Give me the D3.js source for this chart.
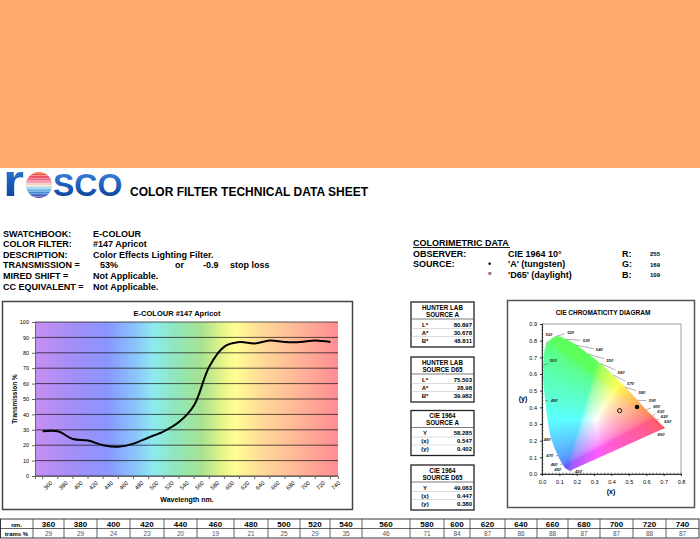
<!DOCTYPE html>
<html lang="en">
<head>
<meta charset="UTF-8">
<title>Rosco E-Colour #147 Apricot</title>
<script src="https://cdn.jsdelivr.net/npm/d3@7/dist/d3.min.js"></script>
<style>
  html, body { margin: 0; background: #fff; }
  svg { display: block; font-family: 'Liberation Sans', Arial, sans-serif; font-weight: bold; }
</style>
</head>
<body>
<script>
// page size
const W = 700
const H = 539

// filter data
const wavelengths = [360, 380, 400, 420, 440, 460, 480, 500, 520, 540, 560, 580, 600, 620, 640, 660, 680, 700, 720, 740]
const transmission = [29, 29, 24, 23, 20, 19, 21, 25, 29, 35, 46, 71, 84, 87, 86, 88, 87, 87, 88, 87]
const swatchRgb = [255, 169, 109]
const transmissionPct = 53
const stopLoss = -0.9

const infoLabels = ['SWATCHBOOK:', 'COLOR FILTER:', 'DESCRIPTION:', 'TRANSMISSION =', 'MIRED SHIFT =', 'CC EQUIVALENT =']
const infoValues = ['E-COLOUR', '#147 Apricot', 'Color Effects Lighting Filter.', transmissionPct + '%', 'Not Applicable.', 'Not Applicable.']

const hunterA = [80.897, 30.678, 48.811]
const hunterD65 = [75.503, 28.98, 39.982]
const cieA = [58.285, 0.547, 0.402]
const cieD65 = [49.083, 0.447, 0.380]

// spectral locus: [nm, x, y]
const locus = [
  [420, 0.160, 0.020], [450, 0.135, 0.035], [460, 0.118, 0.058], [470, 0.092, 0.110],
  [480, 0.055, 0.205], [490, 0.018, 0.440], [500, 0.008, 0.650], [510, 0.025, 0.775],
  [520, 0.080, 0.826], [530, 0.140, 0.808], [540, 0.200, 0.772], [550, 0.268, 0.720],
  [560, 0.338, 0.662], [570, 0.410, 0.594], [580, 0.480, 0.520], [590, 0.550, 0.442],
  [600, 0.600, 0.386], [610, 0.636, 0.350], [620, 0.660, 0.325], [630, 0.680, 0.303],
  [650, 0.700, 0.284], [700, 0.710, 0.278]
]
// wavelength labels on the diagram: [nm, x, y]
const locusLabels = [
  [510, 0.040, 0.835], [520, 0.165, 0.850], [530, 0.255, 0.800], [540, 0.330, 0.745],
  [550, 0.390, 0.680], [560, 0.455, 0.610], [570, 0.510, 0.540], [580, 0.575, 0.490],
  [590, 0.635, 0.440], [600, 0.660, 0.407], [610, 0.684, 0.376], [620, 0.704, 0.345],
  [630, 0.724, 0.314], [650, 0.685, 0.235], [500, 0.065, 0.680], [490, 0.070, 0.440],
  [480, 0.030, 0.205], [470, 0.045, 0.110], [460, 0.070, 0.057], [450, 0.090, 0.025],
  [420, 0.210, 0.015]
]

const svg = d3.select('body').append('svg')
  .attr('width', W)
  .attr('height', H)
const defs = svg.append('defs')

// colour swatch
svg.append('rect')
  .attr('width', W).attr('height', 168)
  .attr('fill', d3.rgb(...swatchRgb))

// ---- logo + heading
const blue = defs.append('linearGradient').attr('id', 'logoBlue').attr('x1', 0).attr('y1', 0).attr('x2', 0).attr('y2', 1)
blue.append('stop').attr('offset', 0).attr('stop-color', '#4a8fe0')
blue.append('stop').attr('offset', 0.5).attr('stop-color', '#1c5fbf')
blue.append('stop').attr('offset', 1).attr('stop-color', '#0b3a8a')

const ball = defs.append('linearGradient').attr('id', 'logoBall').attr('x1', 0).attr('y1', 0).attr('x2', 0).attr('y2', 1)
const ballStops = [[0, '#f0682c'], [0.22, '#ec4a6a'], [0.42, '#f3a9b8'], [0.52, '#f7e8c8'], [0.62, '#8fd3f0'], [0.8, '#3d86d6'], [1, '#4b3a9e']]
ballStops.forEach(s => ball.append('stop').attr('offset', s[0]).attr('stop-color', s[1]))
defs.append('clipPath').attr('id', 'ballClip')
  .append('circle').attr('cx', 39).attr('cy', 185).attr('r', 13)

const logo = svg.append('g')
logo.append('text').attr('x', 3).attr('y', 196)
  .attr('font-size', 44).attr('textLength', 21).attr('lengthAdjust', 'spacingAndGlyphs')
  .attr('fill', 'url(#logoBlue)').text('r')
logo.append('circle').attr('cx', 39).attr('cy', 185).attr('r', 13).attr('fill', 'url(#logoBall)')
logo.append('g').attr('clip-path', 'url(#ballClip)')
  .selectAll('line').data(d3.range(173, 198, 2.6)).join('line')
  .attr('x1', 24).attr('x2', 54).attr('y1', d => d).attr('y2', d => d)
  .attr('stroke', '#fff').attr('stroke-width', 0.6).attr('opacity', 0.7)
logo.append('text').attr('x', 53).attr('y', 196)
  .attr('font-size', 32).attr('fill', 'url(#logoBlue)').text('SCO')

svg.append('text').attr('x', 130).attr('y', 196).attr('font-size', 12)
  .text('COLOR FILTER TECHNICAL DATA SHEET')

// ---- filter info block
const info = svg.append('g').attr('font-size', 9)
info.selectAll('.lab').data(infoLabels).join('text')
  .attr('class', 'lab').attr('x', 3).attr('y', (d, i) => 236.5 + i * 10.6).text(d => d)
info.selectAll('.val').data(infoValues).join('text')
  .attr('class', 'val').attr('x', (d, i) => i === 3 ? 100 : 93).attr('y', (d, i) => 236.5 + i * 10.6).text(d => d)
info.append('text').attr('x', 175).attr('y', 236.5 + 3 * 10.6).text('or')
info.append('text').attr('x', 203).attr('y', 236.5 + 3 * 10.6).text(stopLoss)
info.append('text').attr('x', 230).attr('y', 236.5 + 3 * 10.6).text('stop loss')

// ---- colorimetric block
const cm = svg.append('g').attr('font-size', 9)
cm.append('text').attr('x', 413).attr('y', 245.5).text('COLORIMETRIC DATA')
cm.append('line').attr('x1', 413).attr('x2', 510).attr('y1', 247.5).attr('y2', 247.5).attr('stroke', '#000').attr('stroke-width', 0.9)
cm.append('text').attr('x', 413).attr('y', 256.5).text('OBSERVER:')
cm.append('text').attr('x', 413).attr('y', 267).text('SOURCE:')
cm.append('text').attr('x', 508).attr('y', 256.5).text('CIE 1964 10°')
cm.append('text').attr('x', 488).attr('y', 267).text('•')
cm.append('text').attr('x', 508).attr('y', 267).text("'A' (tungsten)")
cm.append('text').attr('x', 488).attr('y', 277.5).text('°')
cm.append('text').attr('x', 508).attr('y', 277.5).text("'D65' (daylight)")
;['R:', 'G:', 'B:'].forEach((c, i) => {
  cm.append('text').attr('x', 622).attr('y', 256.5 + i * 10.5).text(c)
  cm.append('text').attr('x', 650).attr('y', 256 + i * 10.5).attr('font-size', 6).text(swatchRgb[i])
})

// ---- transmission chart
svg.append('rect').attr('x', 2.5).attr('y', 301.5).attr('width', 350).attr('height', 208)
  .attr('fill', '#fff').attr('stroke', '#444').attr('stroke-width', 1.5)

const plot = { x0: 35, x1: 338, y0: 322, y1: 476 }
const x = d3.scaleBand().domain(wavelengths).range([plot.x0, plot.x1])
const y = d3.scaleLinear().domain([0, 100]).range([plot.y1, plot.y0])

const spec = defs.append('linearGradient').attr('id', 'spectrum')
const specStops = [[0, '#c78ef2'], [0.14, '#a08ef8'], [0.24, '#8a96ff'], [0.33, '#8ac4fa'], [0.39, '#8eeaf0'],
  [0.47, '#90e6b8'], [0.55, '#a8e290'], [0.62, '#e6f48a'], [0.66, '#ffff92'], [0.74, '#ffdc98'],
  [0.86, '#ffb898'], [1, '#ff8c94']]
specStops.forEach(s => spec.append('stop').attr('offset', s[0]).attr('stop-color', s[1]))

svg.append('rect').attr('x', plot.x0).attr('y', plot.y0)
  .attr('width', plot.x1 - plot.x0).attr('height', plot.y1 - plot.y0)
  .attr('fill', 'url(#spectrum)')

svg.append('g').selectAll('line').data(y.ticks(10)).join('line')
  .attr('x1', plot.x0).attr('x2', plot.x1)
  .attr('y1', d => y(d)).attr('y2', d => y(d))
  .attr('stroke', '#111').attr('stroke-width', 0.7)

const gy = svg.append('g').attr('transform', `translate(${plot.x0},0)`)
  .call(d3.axisLeft(y).ticks(10).tickSize(3))
gy.selectAll('text').attr('font-size', 5.5).attr('font-weight', 'normal').attr('font-family', 'Liberation Sans, Arial')
gy.selectAll('path, line').attr('stroke', '#666')

const gx = svg.append('g').attr('transform', `translate(0,${plot.y1})`)
  .call(d3.axisBottom(x).tickSize(3))
gx.selectAll('text').attr('font-size', 5.8).attr('font-weight', 'normal').attr('font-family', 'Liberation Sans, Arial')
  .attr('text-anchor', 'end').attr('dx', '2').attr('dy', '6.5')
  .attr('transform', 'rotate(-45)')
gx.selectAll('path, line').attr('stroke', '#666')

const line = d3.line()
  .x((d, i) => x(wavelengths[i]) + x.bandwidth() / 2)
  .y(d => y(d))
  .curve(d3.curveCatmullRom.alpha(0.5))
svg.append('path').attr('d', line(transmission))
  .attr('fill', 'none').attr('stroke', '#000').attr('stroke-width', 2)

svg.append('text').attr('x', 177).attr('y', 316).attr('text-anchor', 'middle').attr('font-size', 7.5)
  .text('E-COLOUR #147 Apricot')
svg.append('text').attr('transform', 'translate(17,399) rotate(-90)').attr('text-anchor', 'middle')
  .attr('font-size', 6.5).text('Transmission %')
svg.append('text').attr('x', 187).attr('y', 502).attr('text-anchor', 'middle').attr('font-size', 7)
  .text('Wavelength nm.')

// ---- hunter / cie boxes
function dataBox(top, head1, head2, labels, values) {
  const g = svg.append('g').attr('transform', `translate(411,${top})`)
  g.append('rect').attr('width', 63).attr('height', 45).attr('fill', '#fff').attr('stroke', '#222').attr('stroke-width', 1.3)
  g.append('line').attr('x1', 0).attr('x2', 63).attr('y1', 17).attr('y2', 17).attr('stroke', '#444').attr('stroke-width', 0.7)
  ;[26.5, 34.5].forEach(v => g.append('line').attr('x1', 0).attr('x2', 63).attr('y1', v).attr('y2', v)
    .attr('stroke', '#bbb').attr('stroke-width', 0.5))
  g.append('text').attr('x', 31.5).attr('y', 7.8).attr('text-anchor', 'middle').attr('font-size', 6.3).text(head1)
  g.append('text').attr('x', 31.5).attr('y', 14.8).attr('text-anchor', 'middle').attr('font-size', 6.3).text(head2)
  labels.forEach((l, i) => {
    g.append('text').attr('x', 14).attr('y', 24.5 + i * 8).attr('text-anchor', 'middle').attr('font-size', 6).text(l)
    g.append('text').attr('x', 61).attr('y', 24.5 + i * 8).attr('text-anchor', 'end').attr('font-size', 6).text(values[i])
  })
}
const f3 = d3.format('.3f')
dataBox(302, 'HUNTER LAB', 'SOURCE A', ['L*', 'A*', 'B*'], hunterA.map(String))
dataBox(357, 'HUNTER LAB', 'SOURCE D65', ['L*', 'A*', 'B*'], hunterD65.map(String))
dataBox(410.5, 'CIE 1964', 'SOURCE A', ['Y', '(x)', '(y)'], cieA.map(f3))
dataBox(465, 'CIE 1964', 'SOURCE D65', ['Y', '(x)', '(y)'], cieD65.map(f3))

// ---- CIE chromaticity diagram
svg.append('rect').attr('x', 507.5).attr('y', 300.5).attr('width', 187).attr('height', 207)
  .attr('fill', '#fff').attr('stroke', '#555').attr('stroke-width', 1.5)
svg.append('text').attr('x', 603).attr('y', 314.5).attr('text-anchor', 'middle').attr('font-size', 6.5)
  .text('CIE CHROMATICITY DIAGRAM')

const cx = d3.scaleLinear().domain([0, 0.8]).range([542, 681])
const cy = d3.scaleLinear().domain([0, 0.9]).range([474, 324])

// chromaticity colour field
function xyToRgb(xx, yy) {
  yy = Math.max(yy, 0.005)
  const X = xx / yy, Y = 1, Z = (1 - xx - yy) / yy
  let rgb = [
    3.2406 * X - 1.5372 * Y - 0.4986 * Z,
    -0.9689 * X + 1.8758 * Y + 0.0415 * Z,
    0.0557 * X - 0.2040 * Y + 1.0570 * Z
  ].map(v => Math.max(v, 0))
  const m = Math.max(...rgb) || 1
  return rgb.map(v => {
    v = v / m
    v = v <= 0.0031308 ? 12.92 * v : 1.055 * Math.pow(v, 1 / 2.4) - 0.055
    return Math.round(255 * (0.64 * v + 0.36))
  })
}
const k = 3
const pw = cx.range()[1] - cx.range()[0]
const ph = cy.range()[0] - cy.range()[1]
const cvs = document.createElement('canvas')
cvs.width = pw * k
cvs.height = ph * k
const ctx = cvs.getContext('2d')
const img = ctx.createImageData(cvs.width, cvs.height)
for (let j = 0; j < cvs.height; j++) {
  const yy = cy.invert(cy.range()[1] + (j + 0.5) / k)
  for (let i = 0; i < cvs.width; i++) {
    const xx = cx.invert(cx.range()[0] + (i + 0.5) / k)
    const c = xyToRgb(xx, yy)
    const o = (j * cvs.width + i) * 4
    img.data[o] = c[0]
    img.data[o + 1] = c[1]
    img.data[o + 2] = c[2]
    img.data[o + 3] = 255
  }
}
ctx.putImageData(img, 0, 0)

const locusLine = d3.line().x(d => cx(d[1])).y(d => cy(d[2])).curve(d3.curveCatmullRom.alpha(0.5))
defs.append('clipPath').attr('id', 'locusClip').append('path').attr('d', locusLine(locus) + 'Z')

svg.append('image').attr('href', cvs.toDataURL())
  .attr('x', cx.range()[0]).attr('y', cy.range()[1])
  .attr('width', pw).attr('height', ph)
  .attr('preserveAspectRatio', 'none')
  .attr('clip-path', 'url(#locusClip)')

// plot frame and axes
svg.append('rect').attr('x', cx(0)).attr('y', cy(0.9)).attr('width', pw).attr('height', ph)
  .attr('fill', 'none').attr('stroke', '#666').attr('stroke-width', 0.6)
const cgx = svg.append('g').attr('transform', `translate(0,${cy(0)})`)
  .call(d3.axisBottom(cx).ticks(8).tickFormat(d3.format('.1f')).tickSize(2))
const cgy = svg.append('g').attr('transform', `translate(${cx(0)},0)`)
  .call(d3.axisLeft(cy).ticks(9).tickFormat(d3.format('.1f')).tickSize(2))
;[cgx, cgy].forEach(g => {
  g.selectAll('text').attr('font-size', 5.5).attr('font-weight', 'normal').attr('font-family', 'Liberation Sans, Arial')
  g.selectAll('path, line').attr('stroke', '#333')
})
cgx.selectAll('text').attr('dy', '0.9em')
// minor ticks
svg.append('g').selectAll('line').data(d3.range(0, 0.801, 0.02)).join('line')
  .attr('x1', d => cx(d)).attr('x2', d => cx(d)).attr('y1', cy(0)).attr('y2', cy(0) - 1.5)
  .attr('stroke', '#333').attr('stroke-width', 0.5)
svg.append('g').selectAll('line').data(d3.range(0, 0.901, 0.02)).join('line')
  .attr('x1', cx(0)).attr('x2', cx(0) + 1.5).attr('y1', d => cy(d)).attr('y2', d => cy(d))
  .attr('stroke', '#333').attr('stroke-width', 0.5)

svg.append('text').attr('x', 611).attr('y', 494).attr('text-anchor', 'middle').attr('font-size', 7).text('(x)')
svg.append('text').attr('x', 523).attr('y', 401).attr('text-anchor', 'middle').attr('font-size', 7).text('(y)')

// wavelength labels with leader dashes
const byNm = new Map(locus.map(d => [d[0], d]))
const lab = svg.append('g')
locusLabels.forEach(d => {
  const p = byNm.get(d[0])
  const px = cx(p[1]), py = cy(p[2])
  const lx = cx(d[1]), ly = cy(d[2])
  const dist = Math.hypot(lx - px, ly - py)
  if (dist > 8) {
    const t = (dist - 6) / dist
    lab.append('line').attr('x1', px).attr('y1', py)
      .attr('x2', px + (lx - px) * t).attr('y2', py + (ly - py) * t)
      .attr('stroke', '#333').attr('stroke-width', 0.4)
  }
  lab.append('text').attr('x', lx).attr('y', ly + 1.4).attr('text-anchor', 'middle')
    .attr('font-size', 4.2).attr('font-style', 'italic').attr('fill', '#222').text(d[0])
})

// source points
svg.append('circle').attr('cx', cx(cieA[1])).attr('cy', cy(cieA[2])).attr('r', 2.2).attr('fill', '#000')
svg.append('circle').attr('cx', cx(cieD65[1])).attr('cy', cy(cieD65[2])).attr('r', 2.1)
  .attr('fill', 'none').attr('stroke', '#000').attr('stroke-width', 0.9)

// ---- transmission table
const colEdges = [0, 33, 64, 97, 130, 164, 197, 234, 268, 300, 330, 362, 410, 444, 470, 505, 537, 568, 600, 633, 666, 699]
const tTop = 519, tMid = 528.5, tBot = 538
const tbl = svg.append('g')
tbl.append('rect').attr('x', 0.5).attr('y', tTop).attr('width', 698.5).attr('height', tBot - tTop)
  .attr('fill', '#fff').attr('stroke', '#222').attr('stroke-width', 0.9)
tbl.append('line').attr('x1', 0).attr('x2', 699).attr('y1', tMid).attr('y2', tMid).attr('stroke', '#222').attr('stroke-width', 0.7)
tbl.selectAll('.sep').data(colEdges.slice(1, -1)).join('line').attr('class', 'sep')
  .attr('x1', d => d).attr('x2', d => d).attr('y1', tTop).attr('y2', tBot)
  .attr('stroke', '#222').attr('stroke-width', 0.7)
const mid = i => (colEdges[i] + colEdges[i + 1]) / 2
tbl.append('text').attr('x', mid(0)).attr('y', 526.5).attr('text-anchor', 'middle').attr('font-size', 6).text('nm.')
tbl.append('text').attr('x', mid(0)).attr('y', 535.8).attr('text-anchor', 'middle').attr('font-size', 6).text('trams %')
tbl.selectAll('.nm').data(wavelengths).join('text').attr('class', 'nm')
  .attr('x', (d, i) => mid(i + 1)).attr('y', 527).attr('text-anchor', 'middle').attr('font-size', 8).text(d => d)
tbl.selectAll('.tv').data(transmission).join('text').attr('class', 'tv')
  .attr('x', (d, i) => mid(i + 1)).attr('y', 536).attr('text-anchor', 'middle')
  .attr('font-size', 6.5).attr('font-weight', 'normal').attr('fill', '#555').text(d => d)
</script>
</body>
</html>
